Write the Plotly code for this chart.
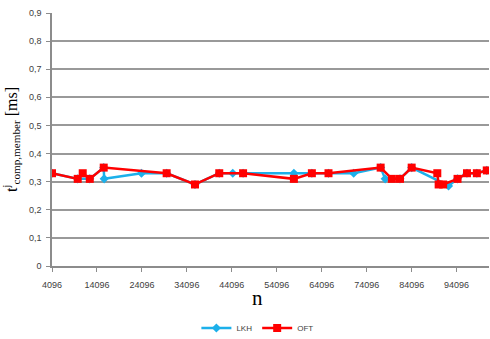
import plotly.graph_objects as go

# Problem size n and member computation time (ms) for each method
lkh_n = [4096, 9816, 12500, 15600, 15700, 24000, 29600, 35900, 41300, 44300, 46600,
         57900, 61900, 65600, 71200, 77200, 78200, 81500, 84100, 92300, 94300,
         96400, 98600, 100800]
lkh_t = [0.33, 0.31, 0.31, 0.35, 0.31, 0.33, 0.33, 0.29, 0.33, 0.33, 0.33,
         0.33, 0.33, 0.33, 0.33, 0.35, 0.31, 0.31, 0.35, 0.285, 0.31,
         0.33, 0.33, 0.34]

oft_n = [4096, 9816, 10930, 12500, 15600, 29600, 35900, 41300, 46600, 57900,
         61900, 65600, 77200, 79700, 81500, 84100, 89800, 90100, 91100, 94300,
         96400, 98600, 100800]
oft_t = [0.33, 0.31, 0.33, 0.31, 0.35, 0.33, 0.29, 0.33, 0.33, 0.31,
         0.33, 0.33, 0.35, 0.31, 0.31, 0.35, 0.33, 0.29, 0.29, 0.31,
         0.33, 0.33, 0.34]

x_ticks = [4096 + 10000 * k for k in range(10)]
y_ticks = [0, 0.1, 0.2, 0.3, 0.4, 0.5, 0.6, 0.7, 0.8, 0.9]
y_tick_text = ["0", "0,1", "0,2", "0,3", "0,4", "0,5", "0,6", "0,7", "0,8", "0,9"]

fig = go.Figure()
fig.add_trace(go.Scatter(
    x=lkh_n, y=lkh_t, name="LKH", mode="lines+markers",
    line=dict(color="#1CB0EA", width=2.5),
    marker=dict(symbol="diamond", size=7, color="#1CB0EA"),
))
fig.add_trace(go.Scatter(
    x=oft_n, y=oft_t, name="OFT", mode="lines+markers",
    line=dict(color="#FF0000", width=2.5),
    marker=dict(symbol="square", size=8, color="#FF0000"),
))

# x-axis title drawn as an annotation for tighter placement under the tick labels
fig.add_annotation(
    text="n", xref="paper", yref="paper", x=0.47, y=-0.125,
    xanchor="center", yanchor="middle", showarrow=False,
    font=dict(family="Liberation Serif, Times New Roman, serif", size=21, color="#000000"),
)

fig.update_layout(
    width=490, height=339,
    margin=dict(l=52, r=1, t=13, b=73, autoexpand=False),
    paper_bgcolor="white", plot_bgcolor="white",
    font=dict(family="Liberation Sans, Arial, sans-serif", size=9, color="#404040"),
    showlegend=True,
    legend=dict(orientation="h", x=0.47, xanchor="center", y=-0.245, yanchor="middle",
                font=dict(size=8, color="#404040"), itemwidth=30,
                tracegroupgap=0, bgcolor="rgba(0,0,0,0)"),
    xaxis=dict(
        range=[4096, 101300], tickvals=x_ticks, tickformat="d", automargin=False,
        showgrid=False, zeroline=False,
        showline=True, linecolor="#8C8C8C", linewidth=1.5,
        ticks="outside", ticklen=4, tickcolor="#8C8C8C", ticklabelstandoff=5,
    ),
    yaxis=dict(
        range=[0, 0.9], tickvals=y_ticks, ticktext=y_tick_text, automargin=False,
        showgrid=True, gridcolor="#999999", gridwidth=1.5, zeroline=False,
        showline=True, linecolor="#8C8C8C", linewidth=1.5,
        ticks="outside", ticklen=4, tickcolor="#8C8C8C", ticklabelstandoff=3,
        title=dict(text="t<sup>j</sup><sub>comp,member</sub> [ms]",
                   font=dict(family="Liberation Serif, Times New Roman, serif",
                             size=16, color="#000000"), standoff=8),
    ),
)

fig.write_html("out.html")
